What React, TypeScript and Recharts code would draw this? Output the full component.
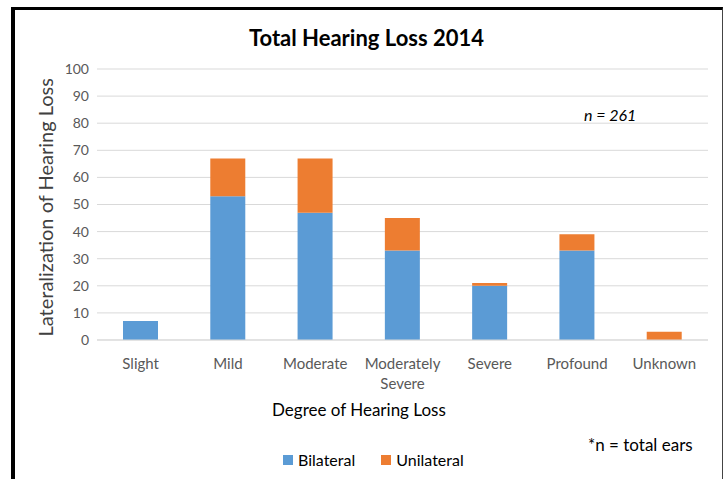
import React from 'react';
import { BarChart, Bar, XAxis, YAxis, CartesianGrid, Text } from 'recharts';

const CATEGORIES = ['Slight', 'Mild', 'Moderate', 'Moderately Severe', 'Severe', 'Profound', 'Unknown'];
const BILATERAL = [7, 53, 47, 33, 20, 33, 0];
const UNILATERAL = [0, 14, 20, 12, 1, 6, 3];
const Y_TICKS = [0, 10, 20, 30, 40, 50, 60, 70, 80, 90, 100];
const SERIES = [
  { key: 'Bilateral', color: '#5b9bd5' },
  { key: 'Unilateral', color: '#ed7d31' },
];

const FONT = 'Lato, "Open Sans", sans-serif';

const data = CATEGORIES.map((name, i) => ({
  name,
  Bilateral: BILATERAL[i],
  Unilateral: UNILATERAL[i],
}));

const CategoryTick = (props: any) => {
  const { x, y, payload } = props;
  return (
    <Text
      x={x}
      y={y + 10}
      width={84}
      textAnchor="middle"
      verticalAnchor="start"
      fontSize={15}
      fontFamily={FONT}
      fill="#595959"
      lineHeight={20}
    >
      {payload.value}
    </Text>
  );
};

export default function App() {
  return (
    <div style={{ position: 'fixed', left: 0, top: 0, width: 723, height: 479, overflow: 'hidden', background: '#fff', fontFamily: FONT }}>
      <div
        style={{
          position: 'absolute',
          left: 11,
          top: 7,
          width: 707,
          height: 500,
          borderLeft: '4px solid #000',
          borderTop: '3px solid #000',
          borderRight: '1px solid #444',
        }}
      />
      <div style={{ position: 'absolute', left: 11, width: 711, top: 24, textAlign: 'center', fontSize: 22, fontWeight: 700, color: '#000' }}>
        Total Hearing Loss 2014
      </div>
      <div style={{ position: 'absolute', left: 584, top: 105, fontSize: 16, fontStyle: 'italic', color: '#000' }}>
        n = 261
      </div>
      <div style={{ position: 'absolute', left: 272, width: 166, top: 399, textAlign: 'center', whiteSpace: 'nowrap', fontSize: 17, color: '#000' }}>
        Degree of Hearing Loss
      </div>
      <div style={{ position: 'absolute', left: 588, top: 434, fontSize: 17, color: '#000' }}>
        *n = total ears
      </div>
      <div style={{ position: 'absolute', left: 283, top: 450, display: 'flex', gap: 26, fontSize: 16, color: '#000' }}>
        {SERIES.map(s => (
          <div key={s.key} style={{ display: 'flex', alignItems: 'center', gap: 5 }}>
            <span style={{ width: 10, height: 10, background: s.color, display: 'inline-block' }} />
            <span>{s.key}</span>
          </div>
        ))}
      </div>
      <div style={{ position: 'absolute', left: 0, top: 0 }}>
        <BarChart
          width={723}
          height={479}
          data={data}
          margin={{ top: 69, right: 15, bottom: 109, left: 47 }}
          barSize={35}
        >
          <CartesianGrid vertical={false} stroke="#d9d9d9" />
          <XAxis
            dataKey="name"
            axisLine={{ stroke: '#d9d9d9' }}
            tickLine={false}
            height={30}
            interval={0}
            tick={<CategoryTick />}
          />
          <YAxis
            width={50}
            domain={[0, 100]}
            ticks={Y_TICKS}
            interval={0}
            axisLine={false}
            tickLine={false}
            tick={{ fontSize: 14, fontFamily: FONT, fill: '#595959' }}
            label={{
              value: 'Lateralization of Hearing Loss',
              angle: -90,
              position: 'insideLeft',
              offset: -1,
              dy: 132,
              fontSize: 20,
              fontFamily: FONT,
              fill: '#404040',
            }}
          />
          {SERIES.map(s => (
            <Bar key={s.key} dataKey={s.key} stackId="a" fill={s.color} isAnimationActive={false} />
          ))}
        </BarChart>
      </div>
    </div>
  );
}
